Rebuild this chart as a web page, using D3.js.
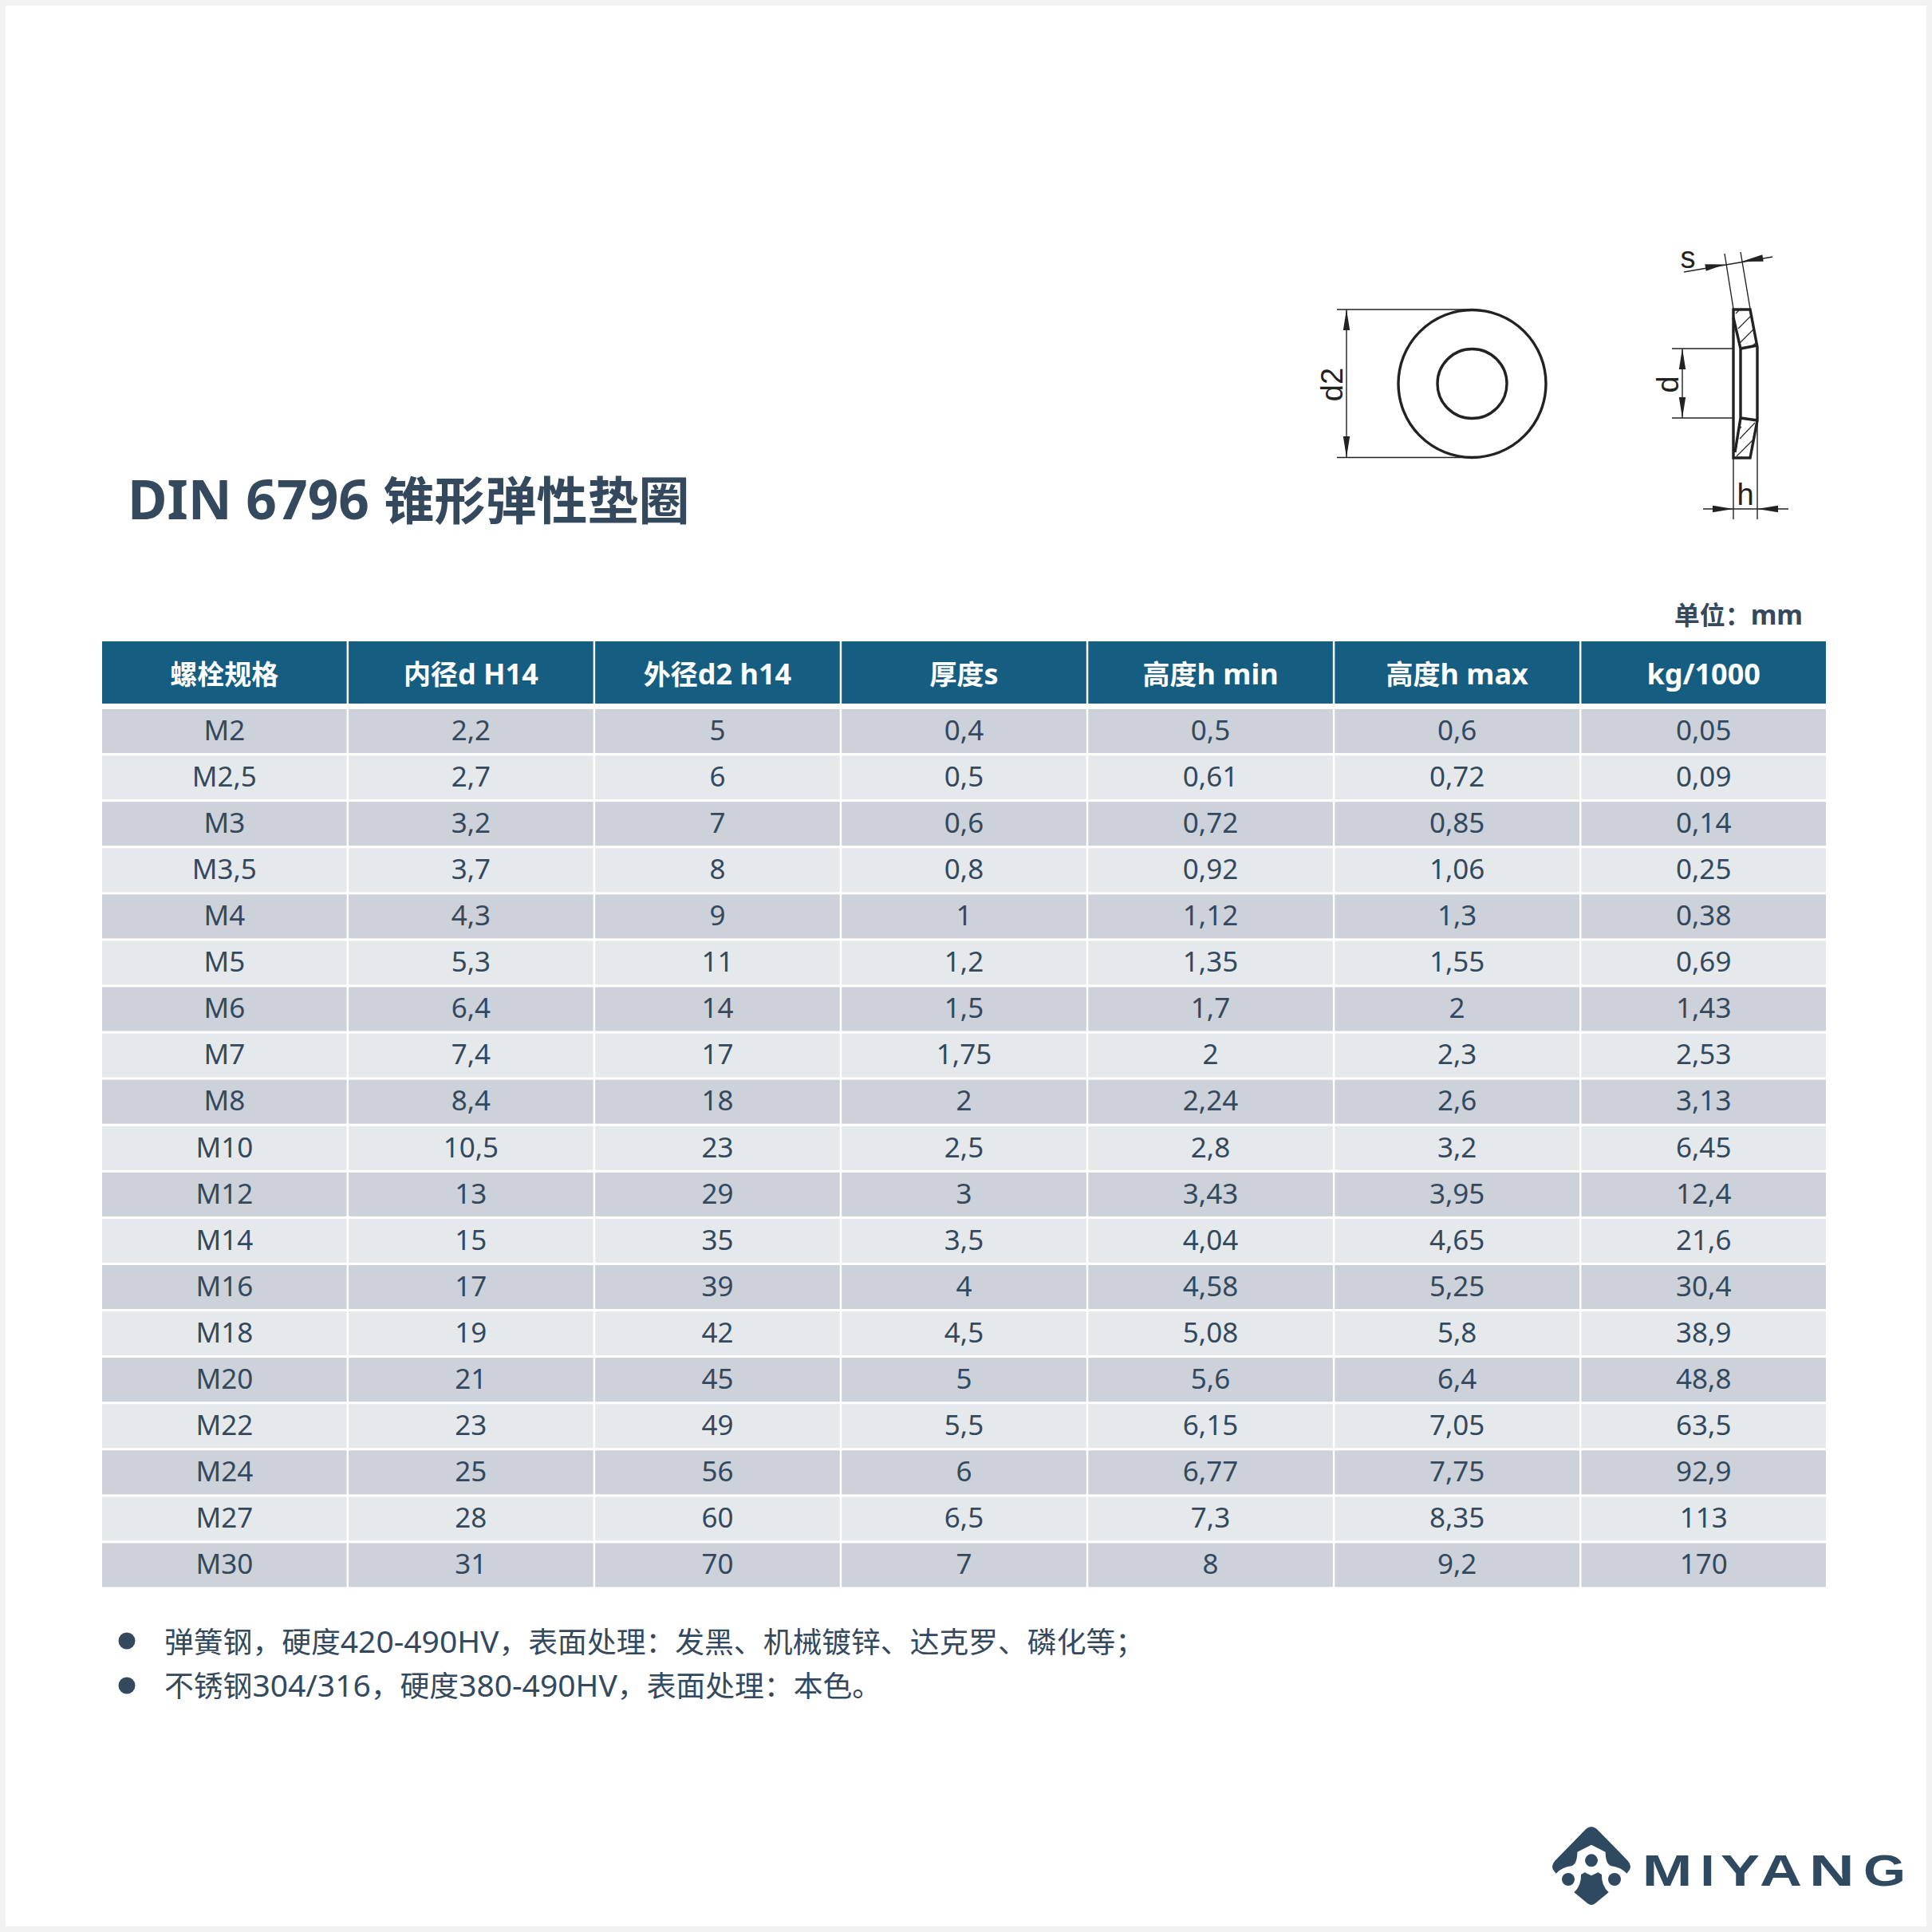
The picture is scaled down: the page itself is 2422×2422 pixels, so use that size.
<!DOCTYPE html>
<html><head><meta charset="utf-8">
<script src="https://cdn.jsdelivr.net/npm/d3@7/dist/d3.min.js"></script>
<style>html,body{margin:0;padding:0;background:#f2f2f2}svg{display:block}</style>
</head><body><svg id="c" width="2422" height="2422"></svg>
<script>
const title = "DIN 6796 锥形弹性垫圈";
const unitLabel = "单位：mm";
const headers = ["螺栓规格","内径d H14","外径d2 h14","厚度s","高度h min","高度h max","kg/1000"];
const sizes = ["M2","M2,5","M3","M3,5","M4","M5","M6","M7","M8","M10","M12","M14","M16","M18","M20","M22","M24","M27","M30"];
const innerD = ["2,2","2,7","3,2","3,7","4,3","5,3","6,4","7,4","8,4","10,5","13","15","17","19","21","23","25","28","31"];
const outerD = ["5","6","7","8","9","11","14","17","18","23","29","35","39","42","45","49","56","60","70"];
const thickness = ["0,4","0,5","0,6","0,8","1","1,2","1,5","1,75","2","2,5","3","3,5","4","4,5","5","5,5","6","6,5","7"];
const hMin = ["0,5","0,61","0,72","0,92","1,12","1,35","1,7","2","2,24","2,8","3,43","4,04","4,58","5,08","5,6","6,15","6,77","7,3","8"];
const hMax = ["0,6","0,72","0,85","1,06","1,3","1,55","2","2,3","2,6","3,2","3,95","4,65","5,25","5,8","6,4","7,05","7,75","8,35","9,2"];
const weight = ["0,05","0,09","0,14","0,25","0,38","0,69","1,43","2,53","3,13","6,45","12,4","21,6","30,4","38,9","48,8","63,5","92,9","113","170"];
const notes = ["弹簧钢，硬度420-490HV，表面处理：发黑、机械镀锌、达克罗、磷化等；","不锈钢304/316，硬度380-490HV，表面处理：本色。"];
const columns = [sizes,innerD,outerD,thickness,hMin,hMax,weight];

const INK="#34495e", HEAD="#155e82", ROW_A="#cdd1d9", ROW_B="#e6e9ec", LINE="#222";
const FONT='"Noto Sans","Noto Sans CJK SC",sans-serif';
const svg=d3.select("#c");
svg.append("rect").attr("x",7).attr("y",7).attr("width",2408).attr("height",2408).attr("fill","#fff");

// writes a string as runs: Chinese at one size, Latin at another
function runs(sel,str,cjk,lat){
  sel.each(function(d){
    const s=str===null?d:str;
    const t=d3.select(this);
    (s.match(/[\x00-\x7f]+|[^\x00-\x7f]+/g)||[]).forEach(r=>{
      t.append("tspan").attr("font-size",/^[\x00-\x7f]/.test(r)?lat:cjk).text(r);
    });
  });
}

svg.append("text").attr("x",160).attr("y",651).attr("font-family",FONT).attr("font-weight",700)
  .attr("fill",INK).attr("xml:space","preserve").call(runs,title,64,67.6);
svg.append("text").attr("x",2260).attr("y",783).attr("text-anchor","end").attr("font-family",FONT)
  .attr("font-weight",700).attr("fill",INK).call(runs,unitLabel,32,33.5);

const x=d3.scaleBand().domain(d3.range(headers.length)).range([128,2289]).paddingInner(0.008);
const y=d3.scaleBand().domain(d3.range(sizes.length)).range([889,1989.5]).paddingInner(0.052);

const hdr=svg.append("g");
hdr.selectAll("rect").data(headers).join("rect")
  .attr("x",(d,i)=>x(i)).attr("y",804).attr("width",x.bandwidth()).attr("height",78).attr("fill",HEAD);
hdr.selectAll("text").data(headers).join("text")
  .attr("x",(d,i)=>x(i)+x.bandwidth()/2).attr("y",858).attr("text-anchor","middle")
  .attr("font-family",FONT).attr("font-weight",700).attr("fill","#fff").call(runs,null,34,36);

const rows=svg.selectAll("g.row").data(sizes.map((s,r)=>columns.map(c=>c[r]))).join("g").attr("class","row");
rows.each(function(cells,r){
  const g=d3.select(this);
  g.selectAll("rect").data(cells).join("rect")
    .attr("x",(d,i)=>x(i)).attr("y",y(r)).attr("width",x.bandwidth()).attr("height",y.bandwidth())
    .attr("fill",r%2?ROW_B:ROW_A);
  g.selectAll("text").data(cells).join("text")
    .attr("x",(d,i)=>x(i)+x.bandwidth()/2).attr("y",y(r)+y.bandwidth()/2+11.3).attr("text-anchor","middle")
    .attr("font-family",FONT).attr("font-size",35).attr("fill",INK).text(d=>d);
});

const noteY=[2072,2127], bulletY=[2057,2113];
svg.selectAll("circle.b").data(notes).join("circle").attr("class","b")
  .attr("cx",159).attr("cy",(d,i)=>bulletY[i]).attr("r",10.5).attr("fill",INK);
svg.selectAll("text.n").data(notes).join("text").attr("class","n")
  .attr("x",206).attr("y",(d,i)=>noteY[i]).attr("font-family",FONT).attr("fill",INK).call(runs,null,36.8,39);

// technical drawing
const dw=svg.append("g").attr("fill","none").attr("stroke",LINE);
function seg(a,b,c,d,w=1.4){dw.append("line").attr("x1",a).attr("y1",b).attr("x2",c).attr("y2",d).attr("stroke-width",w);}
function arrow(tx,ty,fx,fy){
  const dx=tx-fx,dy=ty-fy,l=Math.hypot(dx,dy),ux=dx/l,uy=dy/l,h=4.2;
  dw.append("path").attr("stroke","none").attr("fill",LINE)
    .attr("d",`M${tx},${ty}L${fx-uy*h},${fy+ux*h}L${fx+uy*h},${fy-ux*h}Z`);
}
dw.append("circle").attr("cx",1845.5).attr("cy",481).attr("r",92.5).attr("stroke-width",3.4);
dw.append("circle").attr("cx",1845.5).attr("cy",481).attr("r",43.5).attr("stroke-width",3.4);
seg(1676,388,1845,388);seg(1676,573.5,1845,573.5);seg(1688,388,1688,573.5);
arrow(1688,388,1688,414);arrow(1688,573.5,1688,547);

const thick=[["M2173,388H2194L2203,435V527L2194,574H2173Z"],["M2173,398L2182,437V524L2175,567"],["M2182,437L2203,433"],["M2182,524L2203,527"]];
thick.forEach(p=>dw.append("path").attr("d",p[0]).attr("stroke-width",3.4).attr("stroke-linejoin","miter"));
[[2176,393,2180,389],[2179,412,2196,395],[2181,430,2198,413],[2195,435,2201,430],
 [2181,550,2200,530],[2177,572,2197,552],[2178,540,2183,535]].forEach(s=>seg(...s,1.1));
seg(2162,318,2173,387);seg(2182,316,2194,387);seg(2111,341,2222,322);
arrow(2162,331.5,2138,335.5);arrow(2183,328,2210,323.5);
seg(2096,437,2173,437);seg(2096,524,2173,524);seg(2109,437,2109,524);
arrow(2109,437,2109,463);arrow(2109,524,2109,498);
seg(2173,574,2173,651);seg(2203,527,2203,651);seg(2135,638,2242,638);
arrow(2173,638,2147,638);arrow(2203,638,2229,638);

const lab=svg.append("g").attr("font-family",'"Liberation Sans",Arial,sans-serif').attr("fill","#222").attr("font-size",38);
lab.append("text").attr("x",2116).attr("y",336).attr("text-anchor","middle").text("s");
lab.append("text").attr("x",2188).attr("y",633).attr("text-anchor","middle").text("h");
lab.append("text").attr("transform","translate(2104,482) rotate(-90)").attr("text-anchor","middle").text("d");
lab.append("text").attr("transform","translate(1683,482) rotate(-90)").attr("text-anchor","middle").text("d2");

// logo
const logo=svg.append("g").attr("transform","translate(1920,2270) scale(0.3333)").attr("fill","#2f4a60");
logo.append("path").attr("d","M205,68Q225,52 245,68L362,188Q380,208 366,226L358,236Q335,212 300,208Q278,200 278,155L225,128L172,155Q172,200 150,208Q115,212 92,236L84,226Q70,208 88,188Z");
logo.append("path").attr("d","M200,232L225,244L250,232L264,240Q262,280 290,307L240,348Q225,360 210,348L160,307Q188,280 186,240Z");
[[225,187],[138,258],[312,258]].forEach(c=>logo.append("circle").attr("cx",c[0]).attr("cy",c[1]).attr("r",24));
const wordLetters=["M","I","Y","A","N","G"], wordX=[2058.7,2131.5,2157,2206,2268,2336], wordLen=[62.7,18,49,53,56.6,53];
svg.selectAll("text.w").data(wordLetters).join("text").attr("class","w")
  .attr("x",(d,i)=>wordX[i]).attr("y",2364).attr("textLength",(d,i)=>wordLen[i]).attr("lengthAdjust","spacingAndGlyphs")
  .attr("font-family",'"Liberation Sans",Arial,sans-serif').attr("font-weight",700).attr("font-size",55)
  .attr("fill","#2f4a60").text(d=>d);
</script></body></html>
